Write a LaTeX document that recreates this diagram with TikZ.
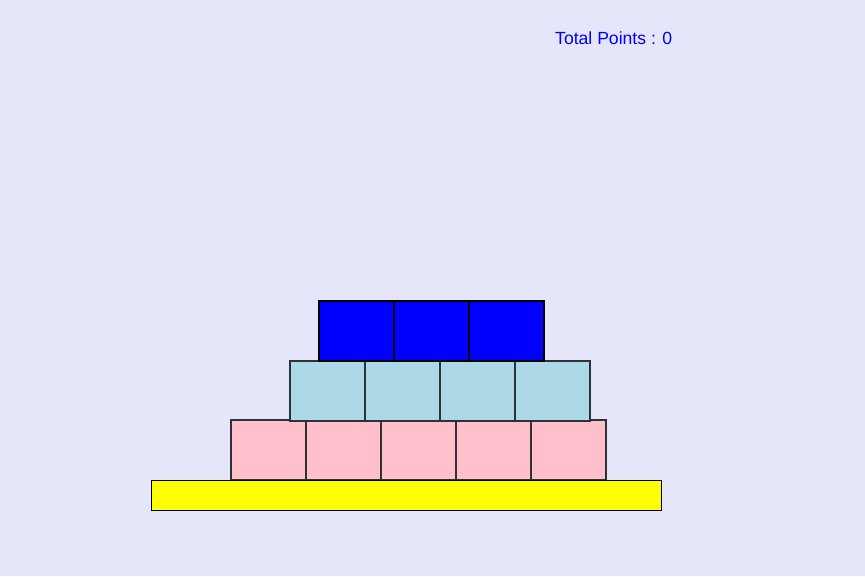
\documentclass[tikz,border=0pt]{standalone}
\usepackage{fontspec}
\setmainfont{Liberation Sans}
\usetikzlibrary{positioning}
\definecolor{lavender}{RGB}{230,230,250}
\definecolor{brickpink}{RGB}{255,192,203}
\definecolor{bricklightblue}{RGB}{173,216,230}
\definecolor{brickblue}{RGB}{0,0,255}
\definecolor{baseyellow}{RGB}{255,255,0}
\definecolor{edgegray}{RGB}{45,50,55}
\tikzset{
  brick/.style={draw=edgegray, line width=1.3pt, minimum width=75pt, minimum height=60pt,
    inner sep=0pt, outer sep=0pt, anchor=north west},
}

\begin{document}
\begin{tikzpicture}[
  x=1pt, y=-1pt,
  base/.style={draw=black, line width=1.3pt, fill=baseyellow, minimum width=510pt,
    minimum height=30pt, inner sep=0pt, anchor=north west},
  score/.style={text=brickblue, font=\fontsize{17.6}{20}\selectfont, inner sep=0pt, anchor=west}
]
\fill[lavender] (0,0) rectangle (865,576);
\useasboundingbox (0,0) rectangle (865,576);
% score
\node[score] (points) at (555,38) {Total Points : 0};
% bottom row
\foreach \i in {1,...,5}
  \node[brick, fill=brickpink] (pink\i) at ({231+75*(\i-1)},420) {};
% middle row
\foreach \i in {1,...,4}
  \node[brick, fill=bricklightblue] (lblue\i) at ({290+75*(\i-1)},361) {};
% top row
\foreach \i in {1,...,3}
  \node[brick, draw=black, fill=brickblue] (blue\i) at ({319+75*(\i-1)},301) {};
% base plank
\node[base] (plank) at (151,480) {};
\end{tikzpicture}
\end{document}
